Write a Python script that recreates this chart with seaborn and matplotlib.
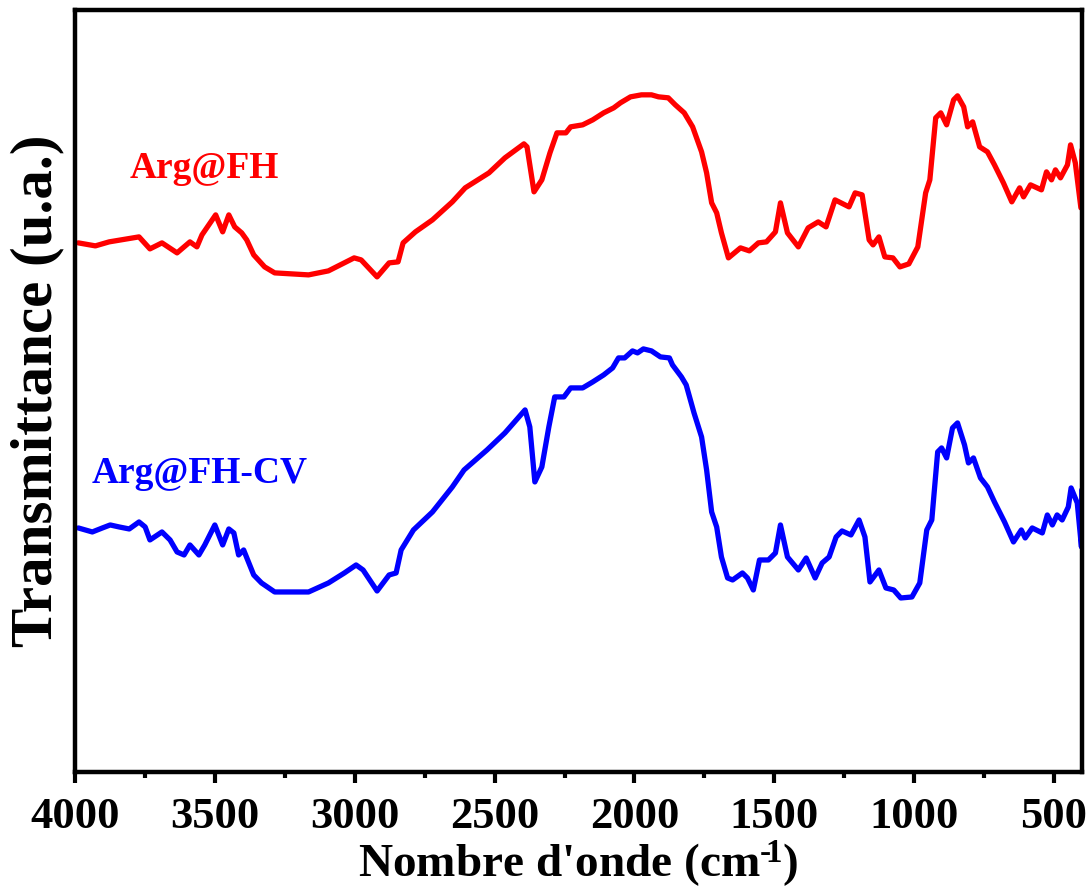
import numpy as np
import pandas as pd
import matplotlib
matplotlib.use("Agg")
import matplotlib.pyplot as plt
import seaborn as sns
from matplotlib.ticker import MultipleLocator

# ---- data ----
red_wn = [3988, 3927, 3878, 3771, 3732, 3689, 3635, 3589, 3564, 3546, 3497, 3472, 3450, 3429,
          3404, 3386, 3361, 3322, 3286, 3165, 3094, 3002, 2977, 2920, 2877, 2845, 2827, 2783,
          2722, 2651, 2605, 2520, 2463, 2395, 2384, 2359, 2331, 2302, 2277, 2245, 2228, 2185,
          2149, 2110, 2074, 2050, 2014, 1975, 1939, 1914, 1879, 1854, 1822, 1792, 1760, 1742,
          1724, 1706, 1689, 1664, 1621, 1589, 1557, 1528, 1496, 1478, 1453, 1414, 1379, 1343,
          1315, 1283, 1233, 1211, 1186, 1161, 1147, 1126, 1105, 1076, 1051, 1019, 987, 959,
          944, 923, 905, 884, 859, 845, 823, 809, 791, 766, 738, 713, 681, 651, 623, 609, 584,
          545, 527, 509, 495, 477, 452, 441, 424, 404, 400]
red_t = [527, 524, 528, 533, 521, 527, 517, 528, 523, 535, 555, 538, 555, 543,
         537, 530, 515, 503, 497, 495, 499, 512, 510, 493, 507, 508, 527, 538,
         550, 568, 582, 597, 612, 626, 623, 578, 590, 617, 637, 637, 643, 645,
         650, 657, 662, 667, 673, 675, 675, 673, 672, 665, 657, 643, 618, 597,
         567, 557, 537, 512, 522, 519, 527, 528, 538, 567, 537, 523, 542, 548,
         543, 570, 563, 577, 575, 530, 525, 533, 513, 512, 503, 506, 523, 577,
         590, 652, 657, 645, 670, 674, 663, 643, 648, 623, 618, 605, 587, 568, 582, 573, 585,
         580, 598, 590, 600, 592, 605, 625, 607, 562, 620]

blue_wn = [3988, 3938, 3902, 3874, 3842, 3806, 3771, 3749, 3732, 3689, 3660, 3635, 3610, 3589,
           3557, 3536, 3500, 3472, 3450, 3432, 3415, 3397, 3361, 3333, 3286, 3165, 3094, 3037,
           2995, 2970, 2920, 2877, 2852, 2834, 2790, 2722, 2651, 2609, 2527, 2463, 2391, 2374,
           2356, 2331, 2306, 2285, 2277, 2252, 2228, 2185, 2149, 2110, 2078, 2057, 2035, 2007,
           1989, 1968, 1939, 1907, 1875, 1864, 1832, 1815, 1787, 1760, 1742, 1724, 1706, 1689,
           1667, 1649, 1614, 1596, 1575, 1553, 1521, 1496, 1478, 1453, 1414, 1386, 1354, 1329,
           1304, 1279, 1258, 1226, 1197, 1176, 1158, 1126, 1101, 1073, 1048, 1008, 980, 955,
           937, 916, 902, 884, 863, 845, 820, 806, 788, 763, 738, 713, 677, 645, 617, 603,
           578, 542, 524, 506, 489, 471, 449, 439, 417, 402, 401]
blue_t = [242, 238, 242, 245, 243, 241, 248, 243, 230, 238, 230, 218, 215, 225,
          215, 225, 245, 225, 241, 237, 215, 220, 195, 187, 178, 178, 187, 197,
          205, 200, 179, 195, 197, 220, 240, 258, 283, 300, 320, 337, 360, 343,
          288, 303, 343, 373, 373, 373, 382, 382, 388, 395, 402, 412, 412, 419,
          417, 421, 419, 413, 412, 405, 393, 385, 357, 333, 300, 258, 243, 213,
          192, 190, 197, 192, 180, 210, 210, 217, 245, 213, 200, 212, 192, 207,
          213, 233, 239, 235, 250, 233, 188, 200, 182, 180, 172, 173, 187, 240,
          250, 318, 322, 312, 342, 347, 325, 307, 312, 292, 283, 268, 248, 228, 240, 232,
          242, 237, 255, 245, 255, 250, 263, 282, 267, 223, 280]

series_names = ["Arg@FH", "Arg@FH-CV"]
series_colors = ["#ff0000", "#0000ff"]
x_ticks = [4000, 3500, 3000, 2500, 2000, 1500, 1000, 500]

# ---- style ----
sns.set_theme(style="white")
plt.rcParams["font.family"] = ["Liberation Serif", "DejaVu Serif"]
plt.rcParams["font.weight"] = "bold"
plt.rcParams["text.color"] = "black"
plt.rcParams["axes.labelcolor"] = "black"
plt.rcParams["xtick.color"] = "black"
plt.rcParams["ytick.color"] = "black"
plt.rcParams["mathtext.fontset"] = "custom"
plt.rcParams["mathtext.rm"] = "Liberation Serif:bold"
plt.rcParams["mathtext.bf"] = "Liberation Serif:bold"
plt.rcParams["mathtext.default"] = "bf"

df = pd.concat([
    pd.DataFrame({"wn": red_wn, "t": red_t, "sample": series_names[0]}),
    pd.DataFrame({"wn": blue_wn, "t": blue_t, "sample": series_names[1]}),
])

fig = plt.figure(figsize=(10.88, 8.92), dpi=100)
ax = fig.add_axes([0.0689, 0.1345, 0.9256, 0.8545])

sns.lineplot(data=df, x="wn", y="t", hue="sample", palette=series_colors,
             sort=False, estimator=None, linewidth=3.8, legend=False, ax=ax)

ax.set_xlim(4000, 400)
ax.set_ylim(-2, 760)
ax.set_xticks(x_ticks)
ax.xaxis.set_minor_locator(MultipleLocator(250))
ax.set_yticks([])
ax.tick_params(axis="x", which="major", direction="out", length=8, width=3,
               labelsize=32, pad=10, bottom=True, top=False, colors="black")
ax.tick_params(axis="x", which="minor", direction="out", length=4, width=3,
               bottom=True, top=False, colors="black")
for lab in ax.get_xticklabels():
    lab.set_fontweight("bold")

for s in ax.spines.values():
    s.set_visible(True)
    s.set_color("black")
    s.set_linewidth(3.2)

ax.set_xlabel("Nombre d'onde (cm$^{\u2010\\!1}$)", fontsize=34, fontweight="bold",
              labelpad=1, color="black")
ax.set_ylabel("Transmittance (u.a.)", fontsize=42.5, fontweight="bold", labelpad=8,
              color="black")

ax.text(3803, 592, series_names[0], color=series_colors[0], fontsize=27,
        fontweight="bold", ha="left", va="baseline")
ax.text(3939, 287, series_names[1], color=series_colors[1], fontsize=27,
        fontweight="bold", ha="left", va="baseline")

fig.savefig("out.png", dpi=100)
